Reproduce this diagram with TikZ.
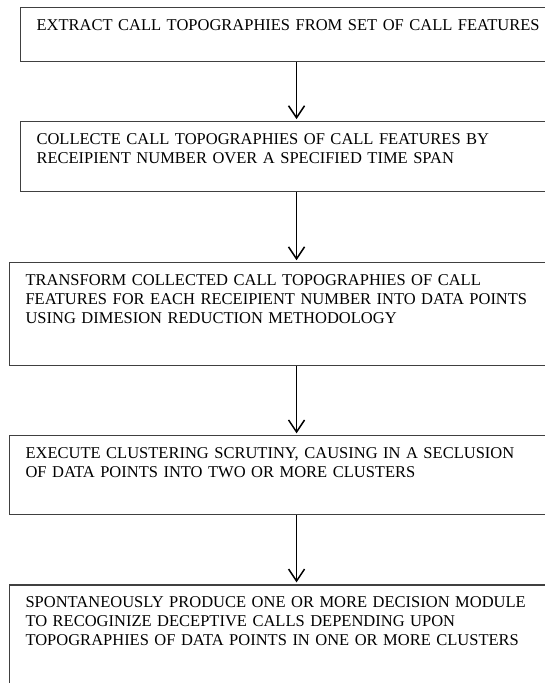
\documentclass[tikz,border=0pt]{standalone}
\usepackage{fontspec}
\setmainfont{Liberation Serif}
\usetikzlibrary{positioning}
\usetikzlibrary{arrows.meta}

\tikzset{
    stepbox/.style={draw=black!75, line width=1.1pt, anchor=north west,
        inner xsep=16pt, inner ysep=12pt, text height=11pt, align=left,
        font=\fontsize{16.5}{19}\selectfont},
    flow/.style={-{Straight Barb[length=12pt,width=16pt]}, line width=1.5pt, shorten >=2pt}
}

\begin{document}
\begin{tikzpicture}
        \useasboundingbox (0,0) rectangle (545pt,-683pt);
        \node [stepbox,text width=520pt,text depth=19pt] (a) at (20pt,-7pt)
            {EXTRACT CALL TOPOGRAPHIES FROM SET OF CALL FEATURES};
        \node [stepbox,text width=520pt,text depth=35pt,below=59pt of a.south west,anchor=north west] (b)
            {COLLECTE CALL TOPOGRAPHIES OF CALL FEATURES BY\\
             RECEIPIENT NUMBER OVER A SPECIFIED TIME SPAN};
        \node [stepbox,text width=542pt,text depth=68pt,below=70pt of b.south west,xshift=-11pt,anchor=north west] (c)
            {TRANSFORM COLLECTED CALL TOPOGRAPHIES OF CALL\\
             FEATURES FOR EACH RECEIPIENT NUMBER INTO DATA POINTS\\
             USING DIMESION REDUCTION METHODOLOGY};
        \node [stepbox,text width=542pt,text depth=44pt,below=69pt of c.south west,anchor=north west] (d)
            {EXECUTE CLUSTERING SCRUTINY, CAUSING IN A SECLUSION\\
             OF DATA POINTS INTO TWO OR MORE CLUSTERS};
        \node [stepbox,text width=542pt,text depth=85pt,below=69pt of d.south west,anchor=north west] (e)
            {SPONTANEOUSLY PRODUCE ONE OR MORE DECISION MODULE\\
             TO RECOGINIZE DECEPTIVE CALLS DEPENDING UPON\\
             TOPOGRAPHIES OF DATA POINTS IN ONE OR MORE CLUSTERS};
        \draw[flow] (a.south) -- (b.north);
        \draw[flow] (b.south) -- (c.north);
        \draw[flow] (c.south) -- (d.north);
        \draw[flow] (d.south) -- (e.north);
    \end{tikzpicture}
\end{document}
